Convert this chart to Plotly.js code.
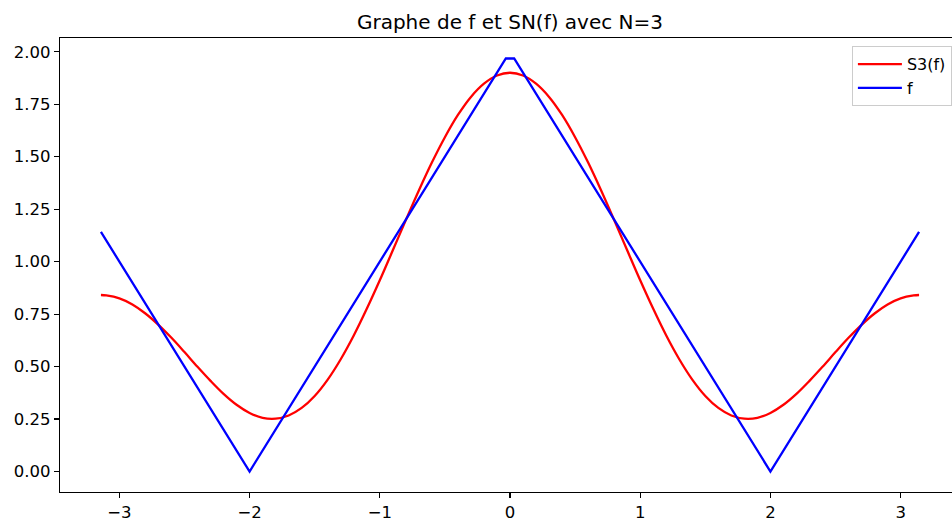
<!DOCTYPE html>
<html>
<head>
<meta charset="utf-8">
<script src="https://cdn.plot.ly/plotly-3.0.1.min.js"></script>
<style>
html, body { margin: 0; padding: 0; background: #fff; overflow: hidden; }
#wrap { width: 952px; height: 523px; overflow: hidden; position: relative; }
#chart { width: 1000px; height: 523px; }
</style>
</head>
<body>
<div id="wrap"><div id="chart"></div></div>
<script>
// S3(f) partial Fourier sum
const sX = [-3.1416, -3.1, -3.0, -2.9, -2.8, -2.7, -2.6, -2.5, -2.4, -2.3, -2.2, -2.1, -2.0, -1.9, -1.8, -1.7, -1.6, -1.5, -1.4, -1.3, -1.2, -1.1, -1.0, -0.9, -0.8, -0.7, -0.6, -0.5, -0.4, -0.3, -0.2, -0.1,
  0.0, 0.1, 0.2, 0.3, 0.4, 0.5, 0.6, 0.7, 0.8, 0.9, 1.0, 1.1, 1.2, 1.3, 1.4, 1.5, 1.6, 1.7, 1.8, 1.9, 2.0, 2.1, 2.2, 2.3, 2.4, 2.5, 2.6, 2.7, 2.8, 2.9, 3.0, 3.1, 3.1416];
const sY = [0.841, 0.839, 0.825, 0.796, 0.753, 0.699, 0.637, 0.569, 0.499, 0.432, 0.370, 0.318, 0.279, 0.256, 0.252, 0.267, 0.303, 0.360, 0.438, 0.535, 0.648, 0.775, 0.911, 1.054, 1.198, 1.339, 1.472, 1.593, 1.699, 1.785, 1.848, 1.887,
  1.900, 1.887, 1.848, 1.785, 1.699, 1.593, 1.472, 1.339, 1.198, 1.054, 0.911, 0.775, 0.648, 0.535, 0.438, 0.360, 0.303, 0.267, 0.252, 0.256, 0.279, 0.318, 0.370, 0.432, 0.499, 0.569, 0.637, 0.699, 0.753, 0.796, 0.825, 0.839, 0.841];
// f, piecewise linear
const fX = [-3.1416, -2.0, -0.032, 0.032, 2.0, 3.1416];
const fY = [1.1416, 0.0, 1.968, 1.968, 0.0, 1.1416];

const seriesNames = ['S3(f)', 'f'];
const titleText = 'Graphe de f et SN(f) avec N=3';

const FONT = 'DejaVu Sans';

const traces = [
  { x: sX, y: sY, type: 'scatter', mode: 'lines', name: seriesNames[0], legendgroup: 'a',
    line: { color: '#ff0000', width: 2.3, shape: 'spline', smoothing: 1 } },
  { x: fX, y: fY, type: 'scatter', mode: 'lines', name: seriesNames[1], legendgroup: 'b',
    line: { color: '#0000ff', width: 2.3 } }
];

const axisCommon = {
  showline: true, linecolor: '#000', linewidth: 1.2, mirror: true,
  ticks: 'outside', ticklen: 5, tickwidth: 1.2, tickcolor: '#000',
  showgrid: false, zeroline: false,
  tickfont: { family: FONT, size: 16.5, color: '#000' }
};

const layout = {
  width: 1000, height: 523,
  paper_bgcolor: '#fff', plot_bgcolor: '#fff',
  margin: { l: 60, r: 40, t: 38, b: 30.5, pad: 0 },
  title: { text: titleText, x: 0.5, xref: 'paper', xanchor: 'center',
           y: 1 - 22 / 523, yref: 'container', yanchor: 'middle',
           font: { family: FONT, size: 20, color: '#000' } },
  xaxis: Object.assign({}, axisCommon, { range: [-3.456, 3.456], dtick: 1, tick0: 0 }),
  yaxis: Object.assign({}, axisCommon, { range: [-0.0976, 2.0656], dtick: 0.25, tick0: 0, tickformat: '.2f' }),
  showlegend: true,
  legend: {
    x: 0.991, xanchor: 'right', y: 0.982, yanchor: 'top',
    bgcolor: 'rgba(255,255,255,0.8)', bordercolor: '#cccccc', borderwidth: 1,
    font: { family: FONT, size: 16, color: '#000' },
    traceorder: 'grouped', tracegroupgap: 0, itemwidth: 44
  }
};

Plotly.newPlot('chart', traces, layout, { displayModeBar: false, staticPlot: true });
</script>
</body>
</html>
